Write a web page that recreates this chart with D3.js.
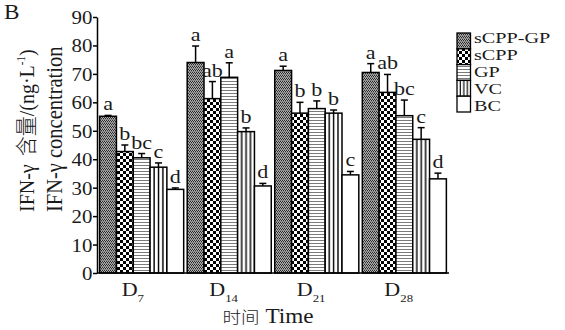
<!DOCTYPE html>
<html>
<head>
<meta charset="utf-8">
<script src="https://cdn.jsdelivr.net/npm/d3@7"></script>
<style>
  body { margin: 0; background: #fff; }
  svg { display: block; }
  text { font-family: "Liberation Serif", "Times New Roman", serif; fill: #1a1a1a; font-weight: normal; }
  .cjk { font-family: "Noto Sans CJK SC", sans-serif; font-weight: 300; fill: #1a1a1a; }
</style>
</head>
<body>
<svg id="chart" width="565" height="330"></svg>
<script>
// days on the x axis, treatment groups in the legend
const days = ["7", "14", "21", "28"];
const groups = ["sCPP-GP", "sCPP", "GP", "VC", "BC"];

// IFN-γ means (ng/L), one array per group, in day order
const sCPPGP = [55.1, 74.0, 71.2, 70.5];
const sCPP   = [42.7, 61.3, 56.2, 63.5];
const GP     = [40.5, 68.8, 57.8, 55.3];
const VC     = [37.2, 49.7, 56.2, 47.0];
const BC     = [29.4, 30.6, 34.5, 33.1];

// error bars (upper only)
const sCPPGPerr = [0.3, 5.8, 1.5, 3.1];
const sCPPerr   = [2.3, 6.0, 3.8, 6.3];
const GPerr     = [1.5, 5.1, 2.7, 5.5];
const VCerr     = [1.5, 1.3, 1.1, 4.1];
const BCerr     = [0.5, 0.9, 1.2, 2.0];

// significance letters
const sCPPGPsig = ["a", "a", "a", "a"];
const sCPPsig   = ["b", "ab", "b", "ab"];
const GPsig     = ["bc", "a", "b", "bc"];
const VCsig     = ["c", "b", "b", "c"];
const BCsig     = ["d", "d", "c", "d"];

const yTicks = [0, 10, 20, 30, 40, 50, 60, 70, 80, 90];

const means = [sCPPGP, sCPP, GP, VC, BC];
const errs = [sCPPGPerr, sCPPerr, GPerr, VCerr, BCerr];
const sigs = [sCPPGPsig, sCPPsig, GPsig, VCsig, BCsig];

const rows = [];
days.forEach((d, di) => {
  groups.forEach((g, gi) => {
    rows.push({day: d, group: g, gi: gi, v: means[gi][di], e: errs[gi][di], s: sigs[gi][di]});
  });
});

const svg = d3.select("#chart");
const SX = 1.16; // the original figure is a bit stretched sideways

// place text at x,y with the horizontal stretch
const put = (sel, x, y, sx = SX) => sel.attr("transform", `translate(${x},${y}) scale(${sx},1)`);

const y = d3.scaleLinear().domain([0, 90]).range([273, 17]);
const x0 = d3.scaleBand().domain(days).range([97, 449]).paddingInner(0.04).paddingOuter(0.03);
const x1 = d3.scaleBand().domain(groups).range([0, x0.bandwidth()]);

/* fill patterns */
const defs = svg.append("defs");
const p0 = defs.append("pattern").attr("id", "pat0").attr("patternUnits", "userSpaceOnUse")
  .attr("width", 2).attr("height", 3);
p0.append("rect").attr("width", 2).attr("height", 3).attr("fill", "#b0b0b0");
p0.append("rect").attr("x", 0).attr("y", 0).attr("width", 1).attr("height", 1).attr("fill", "#2a2a2a");
p0.append("rect").attr("x", 1).attr("y", 1).attr("width", 1).attr("height", 1).attr("fill", "#2a2a2a");
p0.append("rect").attr("x", 0).attr("y", 2).attr("width", 2).attr("height", 1).attr("fill", "#8a8a8a");

const p1 = defs.append("pattern").attr("id", "pat1").attr("patternUnits", "userSpaceOnUse")
  .attr("width", 6).attr("height", 6);
p1.append("rect").attr("width", 6).attr("height", 6).attr("fill", "#fff");
p1.append("rect").attr("x", 0).attr("y", 0).attr("width", 3).attr("height", 3).attr("fill", "#000");
p1.append("rect").attr("x", 3).attr("y", 3).attr("width", 3).attr("height", 3).attr("fill", "#000");

const p2 = defs.append("pattern").attr("id", "pat2").attr("patternUnits", "userSpaceOnUse")
  .attr("width", 4).attr("height", 3);
p2.append("rect").attr("width", 4).attr("height", 3).attr("fill", "#fff");
p2.append("rect").attr("y", 0).attr("width", 4).attr("height", 1).attr("fill", "#7a7a7a");

// vertical stripes sized to each bar
const p3 = defs.append("pattern").attr("id", "pat3").attr("patternUnits", "objectBoundingBox")
  .attr("patternContentUnits", "objectBoundingBox").attr("width", 1).attr("height", 1);
p3.append("rect").attr("width", 1).attr("height", 1).attr("fill", "#fff");
[0.2, 0.46, 0.72].forEach(px => {
  p3.append("rect").attr("x", px).attr("width", 0.085).attr("height", 1).attr("fill", "#000");
});

const fills = ["url(#pat0)", "url(#pat1)", "url(#pat2)", "url(#pat3)", "#fff"];

/* bars */
const bars = svg.append("g").selectAll("g").data(rows).enter().append("g");
const bx = d => x0(d.day) + x1(d.group);

bars.append("rect")
  .attr("x", bx)
  .attr("y", d => y(d.v))
  .attr("width", x1.bandwidth())
  .attr("height", d => y(0) - y(d.v))
  .attr("fill", d => fills[d.gi])
  .attr("stroke", "#000")
  .attr("stroke-width", 1.5);

// error bars, upward only
bars.append("line")
  .attr("x1", d => bx(d) + x1.bandwidth() / 2)
  .attr("x2", d => bx(d) + x1.bandwidth() / 2)
  .attr("y1", d => y(d.v))
  .attr("y2", d => y(d.v + d.e))
  .attr("stroke", "#000").attr("stroke-width", 1.5);
bars.append("line")
  .attr("x1", d => bx(d) + x1.bandwidth() / 2 - 3.5)
  .attr("x2", d => bx(d) + x1.bandwidth() / 2 + 3.5)
  .attr("y1", d => y(d.v + d.e))
  .attr("y2", d => y(d.v + d.e))
  .attr("stroke", "#000").attr("stroke-width", 1.5);

bars.append("text")
  .attr("text-anchor", "middle")
  .attr("font-size", "19px")
  .text(d => d.s)
  .each(function(d) { put(d3.select(this), bx(d) + x1.bandwidth() / 2, y(d.v + d.e) - 5); });

/* axes */
const yAxis = d3.axisLeft(y).tickValues(yTicks).tickSize(4).tickPadding(1).tickSizeOuter(0);
const ya = svg.append("g").attr("transform", "translate(97,0)").call(yAxis);
ya.select(".domain").attr("stroke", "#000").attr("stroke-width", 1.5);
ya.selectAll(".tick line").attr("stroke", "#000").attr("stroke-width", 1.5);
ya.selectAll(".tick text")
  .attr("font-family", "'Liberation Serif', serif")
  .attr("font-size", "19px")
  .attr("fill", "#1a1a1a")
  .attr("x", null).attr("dy", null)
  .attr("transform", `translate(-4.5,6.5) scale(1.1,1)`);

svg.append("line")
  .attr("x1", 97).attr("x2", x0.range()[1])
  .attr("y1", y(0)).attr("y2", y(0))
  .attr("stroke", "#000").attr("stroke-width", 1.5);

// day labels: D with subscript
days.forEach(d => {
  const t = svg.append("text").attr("font-size", "19px");
  put(t, x0(d) + x0.bandwidth() / 2 - 20, 296);
  t.append("tspan").text("D");
  t.append("tspan").attr("font-size", "11px").attr("dy", 6).text(d);
});

const xt = svg.append("text").attr("text-anchor", "middle");
put(xt, 268, 323);
xt.append("tspan").attr("class", "cjk").attr("font-size", "16px").text("时间");
xt.append("tspan").attr("font-size", "20px").text(" Time");

/* y axis title, two lines */
const yt1 = svg.append("text").attr("font-size", "20px")
  .attr("transform", `translate(34,212) scale(1.1,1) rotate(-90)`);
yt1.append("tspan").text("IFN-γ ");
yt1.append("tspan").attr("class", "cjk").attr("font-size", "20px").attr("dx", 3).text("含量");
yt1.append("tspan").text("/(ng·L");
yt1.append("tspan").attr("font-size", "11px").attr("dy", -8).text("-1");
yt1.append("tspan").attr("dy", 8).text(")");

svg.append("text").attr("font-size", "20.5px")
  .attr("transform", `translate(62,212) scale(1.1,1) rotate(-90)`)
  .text("IFN-γ concentration");

const bl = svg.append("text").attr("font-size", "20px").text("B");
put(bl, 4, 19);

/* legend */
const lg = svg.append("g").selectAll("g").data(groups).enter().append("g");
lg.append("rect")
  .attr("x", 457)
  .attr("y", (g, i) => 33 + i * 15.8)
  .attr("width", 13.5)
  .attr("height", 15.8)
  .attr("fill", (g, i) => fills[i])
  .attr("stroke", "#000").attr("stroke-width", 1.3);
lg.append("text")
  .attr("font-size", "15.3px")
  .text(g => g)
  .each(function(g, i) { put(d3.select(this), 474, 43 + i * 17.1, 1.32); });
</script>
</body>
</html>
